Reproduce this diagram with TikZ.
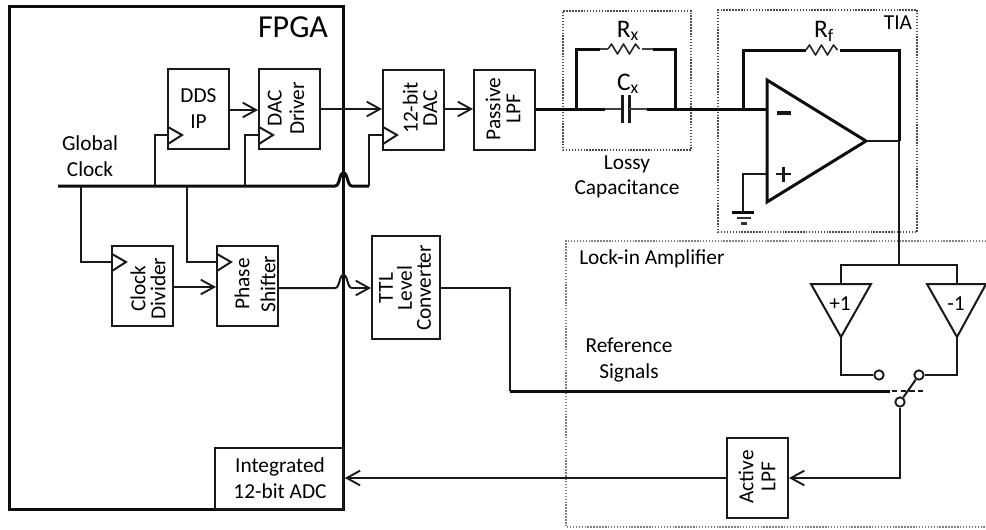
\documentclass[tikz,border=0pt]{standalone}
\usepackage{fontspec}
\setmainfont{Carlito}
\usetikzlibrary{arrows.meta}
\tikzset{
  blk/.style={draw=black!90,line width=1.5pt,inner sep=0pt,minimum width=45.75pt,minimum height=60pt},
  txt/.style={inner sep=0pt,font=\fontsize{16}{19}\selectfont,align=center},
  vt/.style={inner sep=0pt,rotate=90,align=center,font=\fontsize{16}{#1}\selectfont},
  lab/.style={inner sep=0pt,font=\fontsize{19}{21}\selectfont},
  wire/.style={line width=1.5pt,draw=black!90,line join=miter},
  thick wire/.style={line width=2.25pt,draw=black!95},
  thin lead/.style={line width=1pt,draw=black!75},
  arr/.style={wire,-{Straight Barb[length=10pt,width=11pt,line width=1.4pt]}},
  dotbox/.style={draw=black!70,line width=0.9pt,dash pattern=on 1.1pt off 1.1pt},
  term/.style={circle,draw=black!90,fill=white,line width=1.4pt,inner sep=0pt,minimum size=7pt}
}
\newcommand{\clktri}[1]{\draw[wire] ([yshift=6pt]#1) -- ([xshift=10.5pt]#1) -- ([yshift=-6.75pt]#1);}
\newcommand{\zigzag}[1]{\draw[line width=1.2pt,draw=black!85,line join=round] (#1) -- ++(3.5,-5) -- ++(6,10) -- ++(6,-10) -- ++(6,10) -- ++(6,-10) -- ++(4,5);}
\begin{document}
\begin{tikzpicture}[x=0.75pt,y=-0.75pt]
\useasboundingbox (0,0) rectangle (986,529);
% dotted groups
\node[dotbox,inner sep=0pt,minimum width=96pt,minimum height=104.25pt] (lossy) at (627,80.5) {};
\node[dotbox,inner sep=0pt,minimum width=149.25pt,minimum height=166.5pt] (tia) at (817.5,121) {};
\draw[draw=black!50,line width=0.8pt,dash pattern=on 1.1pt off 1.1pt] (986,241) -- (566,241) -- (566,527) -- (986,527);
% FPGA
\node[draw=black!95,line width=2.25pt,inner sep=0pt,minimum width=250.5pt,minimum height=376.7pt] (fpga) at (176.3,258) {};
\node[inner sep=0pt,font=\fontsize{24}{26}\selectfont] (fpgat) at (293,27) {FPGA};
% blocks
\node[blk] (dds) at (198.5,109) {};
\node[blk] (drv) at (289.5,109) {};
\node[blk] (dac) at (413.5,110) {};
\node[blk] (plpf) at (504.5,110) {};
\node[blk] (cdiv) at (142,286) {};
\node[blk] (phs) at (247.5,286) {};
\node[blk,minimum width=51pt,minimum height=77.25pt] (ttl) at (406,287.5) {};
\node[blk] (alpf) at (757.5,478) {};
\node[blk,minimum width=96pt,minimum height=45.75pt] (adc) at (279,478.5) {};
% block texts
\node[txt] (ddst) at (198.5,108.5) {DDS\\IP};
\node[vt=17] (drvt) at (286,108.5) {DAC\\Driver};
\node[vt=14.5] (dact) at (420,108) {12-bit\\DAC};
\node[vt=15] (plpft) at (503,109) {Passive\\LPF};
\node[vt=15] (cdivt) at (148,288.5) {Clock\\Divider};
\node[vt=19.5] (phst) at (255,284) {Phase\\Shifter};
\node[vt=14.25] (ttlt) at (405,288) {TTL\\Level\\Converter};
\node[vt=16.5] (alpft) at (757,477) {Active\\LPF};
\node[inner sep=0pt,align=center,font=\fontsize{16}{19.5}\selectfont] (adct) at (280,478) {Integrated\\12-bit ADC};
% labels
\node[inner sep=0pt,align=center,font=\fontsize{16}{19.5}\selectfont] (gclk) at (90,156.5) {Global\\Clock};
\node[txt] (lcap) at (627,177) {Lossy\\Capacitance};
\node[txt] (tial) at (898,23) {TIA};
\node[txt,anchor=west] (lia) at (579,259) {Lock-in Amplifier};
\node[txt] (refs) at (629,360) {Reference\\Signals};
\node[lab] (rxl) at (628,31) {R\textsubscript{x}};
\node[lab] (cxl) at (628,84) {C\textsubscript{x}};
\node[lab] (rfl) at (824,31) {R\textsubscript{f}};
% coordinates
\coordinate (gc) at (58,186);
\coordinate (j1) at (81,186);
\coordinate (j2) at (155,186);
\coordinate (j3) at (187,186);
\coordinate (j4) at (245,186);
\coordinate (j5) at (369,186);
\coordinate (hb1) at (335,186);
\coordinate (hb2) at (352,186);
\coordinate (ht1) at (335,288);
\coordinate (ht2) at (352,288);
\coordinate (cdds) at (168,135);
\coordinate (cdrv) at (259,135);
\coordinate (cdac) at (383,135);
\coordinate (ccd) at (112,262);
\coordinate (cph) at (217,262);
% clock bus
\draw[thick wire] (gc) -- (hb1) .. controls (340,186) and (339,173) .. (343.5,173) .. controls (348,173) and (347,186) .. (hb2) -- (j5);
\draw[wire] (j5) |- (cdac);
\draw[wire] (j2) |- (cdds);
\draw[wire] (j4) |- (cdrv);
\draw[wire] (j1) |- (ccd);
\draw[wire] (j3) |- (cph);
\clktri{cdds}\clktri{cdrv}\clktri{cdac}\clktri{ccd}\clktri{cph}
% signal path
\draw[arr] (dds.east |- 0,110) -- (drv.west |- 0,110);
\draw[arr] (drv.east |- 0,109) -- (dac.west |- 0,109);
\draw[arr] (dac.east |- 0,109) -- (plpf.west |- 0,109);
\draw[arr] (cdiv.east |- 0,287) -- (phs.west |- 0,287);
\draw[wire] (phs.east |- ht1) -- (ht1) .. controls (340,288) and (339,275) .. (343.5,275) .. controls (348,275) and (347,288) .. (ht2);
\draw[arr] (ht2) -- (ttl.west |- ht2);
% lossy capacitance
\coordinate (lj) at (576,109);
\coordinate (rj) at (675,109);
\coordinate (ampin) at (743,109);
\coordinate (c1) at (622,109);
\coordinate (c2) at (629,109);
\coordinate (rx1) at (608,49);
\coordinate (rx2) at (642,49);
\draw[thick wire] (plpf.east |- lj) -- (lj) -- (576,49) -- (600,49);
\draw[thin lead] (600,49) -- (rx1);
\zigzag{rx1}
\draw[thin lead] (rx2) -- (653,49);
\draw[thick wire] (653,49) -- (675,49) -- (rj);
\draw[thick wire] (lj) -- (605,109);
\draw[thin lead] (605,109) -- (c1);
\draw[line width=2.25pt,draw=black!90] (622,95) -- (622,123);
\draw[line width=2.25pt,draw=black!90] (629,95) -- (629,123);
\draw[thin lead] (c2) -- (647,109);
\draw[thick wire] (647,109) -- (rj) -- (ampin) -- (767,109);
% op amp
\coordinate (oa1) at (767,80);
\coordinate (oa2) at (767,202);
\coordinate (oa3) at (866,141);
\draw[thick wire,line join=miter] (oa1) -- (oa3) -- (oa2) -- cycle;
\coordinate (rf1) at (806,50);
\coordinate (rf2) at (840,50);
\coordinate (oj) at (899,141);
\draw[thick wire] (ampin) -- (743,50) -- (rf1);
\zigzag{rf1}
\draw[thick wire] (rf2) -- (899,50) -- (oj);
\draw[wire] (oa3) -- (oj);
\draw[line width=3pt,draw=black!90] (777,112.5) -- (791,112.5);
\draw[line width=2pt,draw=black!90] (776,174) -- (791,174) (783.5,166.5) -- (783.5,182);
\coordinate (gnd) at (743,212);
\draw[wire] (767,174) -- (743,174) -- (gnd);
\draw[thick wire] (732,212) -- (754,212);
\draw[line width=1.8pt,draw=black!80] (737,218) -- (751,218);
\draw[line width=1.8pt,draw=black!80] (741,223.5) -- (747,223.5);
% lock-in
\coordinate (sp) at (899,265);
\coordinate (t1a) at (811,284);
\coordinate (t1b) at (871,284);
\coordinate (t1c) at (841,337);
\coordinate (t2a) at (927,284);
\coordinate (t2b) at (986,284);
\coordinate (t2c) at (957,337);
\draw[wire] (oj) -- (sp);
\draw[wire] (841,284) |- (sp) -| (957,284);
\draw[wire] (t1a) -- (t1b) -- (t1c) -- cycle;
\draw[wire] (t2a) -- (t2b) -- (t2c) -- cycle;
\node[txt] (p1) at (840,304) {+1};
\node[txt] (m1) at (956,304) {-1};
\node[term] (s1) at (879,375) {};
\node[term] (s2) at (919,375) {};
\node[term] (s3) at (900,402) {};
\draw[wire] (t1c) |- (s1);
\draw[wire] (t2c) |- (s2);
\draw[wire] (s3) -- (s2);
\coordinate (rf) at (510,391);
\draw[wire] (ttl.east |- ht2) -| (rf);
\draw[thick wire] (rf) -- (890,391);
\draw[line width=1.5pt,draw=black!90,dash pattern=on 4pt off 2.5pt] (892,391) -- (923,391);
\coordinate (ol) at (900,478);
\draw[arr] (s3) -- (ol) -- (alpf.east);
\draw[arr] (alpf.west) -- (fpga.east |- alpf.west);
\end{tikzpicture}
\end{document}
